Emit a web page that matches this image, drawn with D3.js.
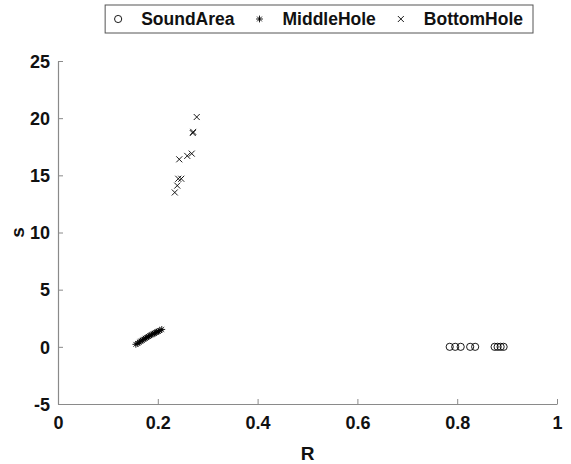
<!DOCTYPE html>
<html><head><meta charset="utf-8">
<script src="https://cdn.jsdelivr.net/npm/d3@7"></script>
<style>body{margin:0;background:#fff;} svg{display:block;font-family:"Liberation Sans",Arial,sans-serif;}</style>
</head><body><svg id="c" width="571" height="464"></svg>
<script>
const seriesNames = ["SoundArea", "MiddleHole", "BottomHole"];
const soundR = [0.785, 0.796, 0.807, 0.826, 0.836, 0.875, 0.881, 0.887, 0.893];
const soundS = [0, 0, 0, 0, 0, 0, 0, 0, 0];
const middleR = [0.156, 0.160, 0.163, 0.166, 0.169, 0.172, 0.175, 0.178, 0.181, 0.184, 0.187, 0.190, 0.193, 0.196, 0.198, 0.201, 0.204, 0.208];
const middleS = [0.22, 0.30, 0.42, 0.50, 0.58, 0.66, 0.75, 0.82, 0.90, 0.98, 1.05, 1.12, 1.18, 1.25, 1.30, 1.36, 1.42, 1.52];
const bottomR = [0.278, 0.270, 0.271, 0.268, 0.259, 0.243, 0.247, 0.241, 0.239, 0.234];
const bottomS = [20.1, 18.7, 18.8, 16.9, 16.7, 16.4, 14.7, 14.7, 14.1, 13.5];
const xTicks = [0, 0.2, 0.4, 0.6, 0.8, 1];
const yTicks = [-5, 0, 5, 10, 15, 20, 25];
const xLabel = "R", yLabel = "s";

const svg = d3.select("#c");
const L = 58, R = 557, T = 61, B = 404;
const x = d3.scaleLinear().domain([0, 1]).range([L, R]);
const y = d3.scaleLinear().domain([-5, 25]).range([B, T]);
const axisColor = "#8a8a8a";

const gx = svg.append("g").attr("transform", `translate(0,${B})`)
  .call(d3.axisBottom(x).tickValues(xTicks).tickFormat(d => String(d)).tickSizeInner(-5).tickSizeOuter(0).tickPadding(12));
const gy = svg.append("g").attr("transform", `translate(${L},0)`)
  .call(d3.axisLeft(y).tickValues(yTicks).tickFormat(d => String(d)).tickSizeInner(-5).tickSizeOuter(0).tickPadding(8));
[gx, gy].forEach(g => {
  g.select(".domain").attr("stroke", axisColor).attr("stroke-width", 1.2);
  g.selectAll(".tick line").attr("stroke", axisColor).attr("stroke-width", 1);
  g.selectAll(".tick text").attr("fill", "#111").attr("font-size", 18).attr("font-weight", "bold").attr("font-family", '"Liberation Sans",Arial,sans-serif');
});
gy.selectAll(".tick text").attr("dy", "0.35em");

svg.append("text").attr("x", (L + R) / 2).attr("y", 460).attr("text-anchor", "middle")
  .attr("font-size", 19).attr("font-weight", "bold").attr("fill", "#111").text(xLabel);
svg.append("text").attr("transform", `translate(24,${(T + B) / 2}) rotate(-90)`).attr("text-anchor", "middle")
  .attr("font-size", 19).attr("font-weight", "bold").attr("fill", "#111").text(yLabel);

function circleMark(g, cx, cy) {
  g.append("circle").attr("cx", cx).attr("cy", cy).attr("r", 3.6).attr("fill", "none").attr("stroke", "#000").attr("stroke-width", 0.9);
}
function crossMark(g, cx, cy) {
  const s = 3;
  g.append("path").attr("d", `M${cx - s},${cy - s}L${cx + s},${cy + s}M${cx - s},${cy + s}L${cx + s},${cy - s}`)
    .attr("stroke", "#000").attr("stroke-width", 0.9).attr("fill", "none");
}
function starMark(g, cx, cy) {
  const s = 3.4, d = s * 0.7071;
  g.append("path").attr("d", `M${cx - s},${cy}L${cx + s},${cy}M${cx},${cy - s}L${cx},${cy + s}M${cx - d},${cy - d}L${cx + d},${cy + d}M${cx - d},${cy + d}L${cx + d},${cy - d}`)
    .attr("stroke", "#000").attr("stroke-width", 0.9).attr("fill", "none");
}
const markFns = [circleMark, starMark, crossMark];

const pts = svg.append("g");
soundR.forEach((r, i) => circleMark(pts, x(r), y(soundS[i])));
middleR.forEach((r, i) => starMark(pts, x(r), y(middleS[i])));
bottomR.forEach((r, i) => crossMark(pts, x(r), y(bottomS[i])));

// legend
const lg = svg.append("g");
const boxRight = 533, boxTop = 5, boxH = 28, fs = 17.5;
const texts = seriesNames.map(n => {
  const t = lg.append("text").attr("font-size", fs).attr("font-weight", "bold").attr("fill", "#111").text(n);
  return {t, w: t.node().getComputedTextLength()};
});
const markGap = 23, itemGap = 25, padR = 10, padL = 13;
let total = padL;
texts.forEach((o, i) => { total += markGap + o.w + (i < texts.length - 1 ? itemGap : padR); });
const boxLeft = boxRight - total;
lg.insert("rect", ":first-child").attr("x", boxLeft).attr("y", boxTop).attr("width", total).attr("height", boxH)
  .attr("fill", "#fff").attr("stroke", "#555").attr("stroke-width", 1);
let cx = boxLeft + padL;
texts.forEach((o, i) => {
  markFns[i](lg, cx, boxTop + boxH / 2);
  o.t.attr("x", cx + markGap).attr("y", boxTop + boxH / 2).attr("dy", "0.36em");
  cx += markGap + o.w + itemGap;
});
</script></body></html>
